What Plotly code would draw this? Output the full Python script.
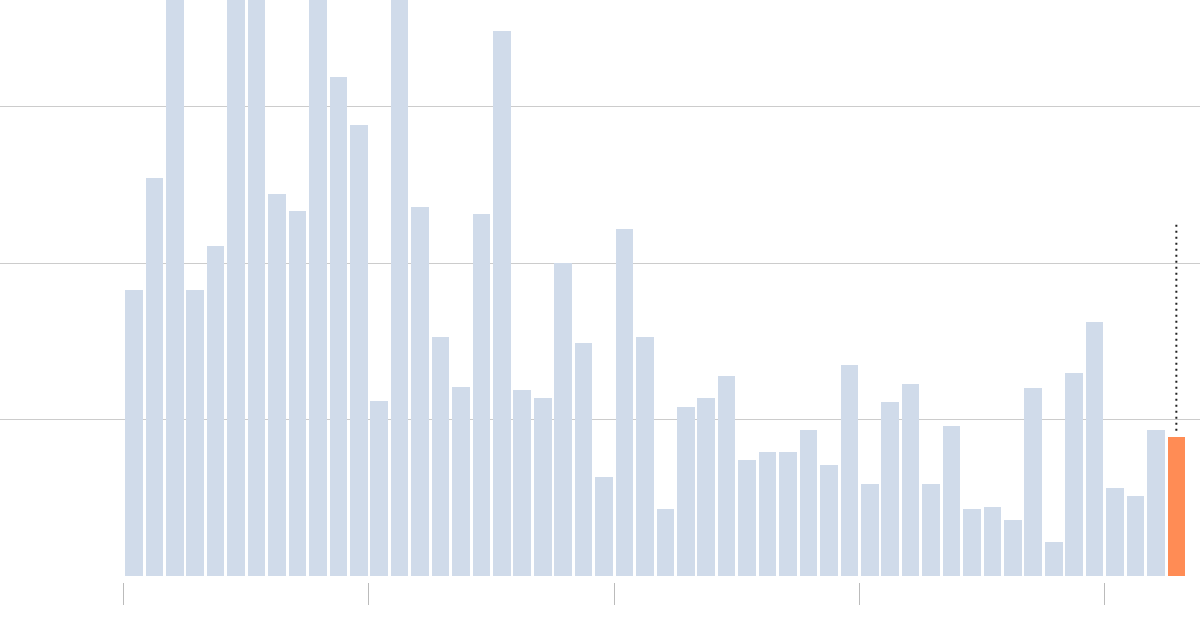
import plotly.graph_objects as go

# Monthly values (12 per tick interval); last bar highlighted
values = [18.3, 25.4, 40.0, 18.3, 21.1, 40.0, 40.0, 24.4, 23.3, 40.0,
          31.9, 28.8, 11.2, 40.0, 23.6, 15.3, 12.1, 23.1, 34.8, 11.9,
          11.4, 20.0, 14.9, 6.3, 22.2, 15.3, 4.3, 10.8, 11.4, 12.8,
          7.4, 7.9, 7.9, 9.3, 7.1, 13.5, 5.9, 11.1, 12.3, 5.9,
          9.6, 4.3, 4.4, 3.6, 12.0, 2.2, 13.0, 16.2, 5.6, 5.1,
          9.3, 8.9]
reference_level = 22.45  # top of the dotted marker above the last bar
grid_values = [10, 20, 30]
tick_positions = [-0.5, 11.5, 23.5, 35.5, 47.5]

BLUE = "#d0dbea"
ORANGE = "#ff8c55"

n = len(values)
xs = list(range(n))
colors = [BLUE] * (n - 1) + [ORANGE]

fig = go.Figure()
fig.add_trace(go.Bar(
    x=xs, y=values, marker=dict(color=colors, line=dict(width=0)),
    width=0.86, hoverinfo="skip", showlegend=False,
))
fig.add_trace(go.Scatter(
    x=[xs[-1], xs[-1]], y=[reference_level, values[-1] + 0.3],
    mode="lines", line=dict(color="#222222", width=2, dash="2px,4px"),
    hoverinfo="skip", showlegend=False,
))

fig.update_layout(
    width=1200, height=630,
    margin=dict(l=0, r=0, t=0, b=48),
    paper_bgcolor="white", plot_bgcolor="white",
    bargap=0,
    xaxis=dict(
        range=[-6.552, 52.157], showgrid=False, zeroline=False,
        tickmode="array", tickvals=tick_positions, ticktext=[""] * len(tick_positions),
        ticks="outside", ticklen=22, tickwidth=1, tickcolor="#bbbbbb",
        showline=False, fixedrange=True,
    ),
    yaxis=dict(
        range=[-0.383, 36.805], showgrid=True, gridcolor="#cccccc", gridwidth=1,
        tickmode="array", tickvals=grid_values, showticklabels=False,
        zeroline=False, showline=False, fixedrange=True,
    ),
)

fig.write_html(
    "out.html",
    config={"displayModeBar": False},
    post_script="document.body.style.margin='0';document.body.style.overflow='hidden';",
)
